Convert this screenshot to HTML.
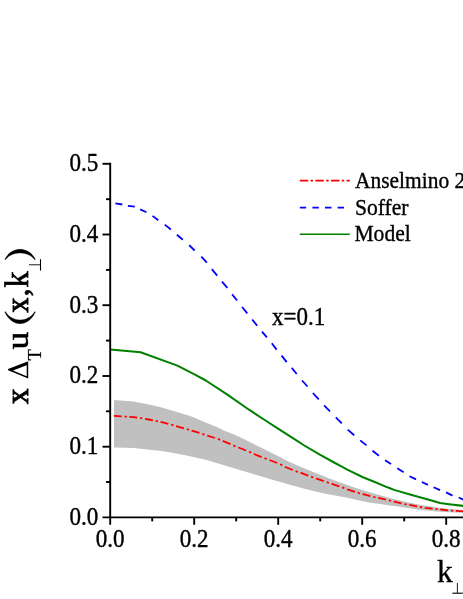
<!DOCTYPE html>
<html><head><meta charset="utf-8"><title>chart</title>
<style>
html,body{margin:0;padding:0;background:#fff;}
body{width:463px;height:599px;overflow:hidden;font-family:"Liberation Serif",serif;}
svg{display:block;will-change:transform;}
text{font-family:"Liberation Serif",serif;fill:#000;}
</style></head><body>
<svg width="463" height="599" viewBox="0 0 463 599">
<rect width="463" height="599" fill="#fff"/>
<polygon points="114.0,400.1 133.3,401.4 148.9,404.6 161.8,407.5 170.0,410.0 178.0,412.3 190.9,416.2 203.9,421.8 216.8,427.0 225.0,430.9 233.0,434.1 245.9,440.1 258.9,446.6 271.8,453.0 280.0,456.9 288.0,461.2 300.9,467.0 313.9,472.2 326.8,477.4 335.0,480.6 343.0,483.6 355.9,488.1 368.9,492.0 381.8,495.7 390.0,497.9 398.0,500.0 410.9,503.0 423.9,505.6 436.8,507.5 445.0,508.5 470.0,510.7 470.0,513.0 445.0,512.0 436.8,511.4 423.9,510.2 410.9,508.5 398.0,506.5 390.0,505.6 381.8,504.3 368.9,502.4 355.9,499.8 350.0,498.3 339.1,496.3 321.8,493.0 304.6,488.7 287.3,483.9 271.4,479.4 249.8,473.1 228.2,466.6 206.6,460.1 190.0,456.3 179.1,454.0 161.8,451.1 144.6,449.2 134.2,448.0 114.0,447.6" fill="#c0c0c0"/>
<path d="M113.9 415.9L121.7 416.4M124.6 416.6L126.8 416.7M129.4 416.9L133.3 417.2L137.2 417.7M140.1 418.1L141.0 418.2L142.3 418.4M145.0 418.9L148.9 419.5L152.8 420.3M155.7 420.8L157.9 421.3M160.5 421.8L161.8 422.1L168.3 423.9L168.3 423.9M171.2 424.5L171.5 424.6L173.4 425.3M176.1 426.2L183.9 428.4M186.8 429.2L188.0 429.5L189.0 429.8M191.6 430.6L191.8 430.7L199.4 432.8M202.3 433.9L203.5 434.3L204.5 434.7M207.2 435.6L215.0 438.0M217.9 439.0L219.1 439.4L220.1 439.8M222.7 440.9L223.2 441.1L230.5 444.1M233.4 445.4L234.3 445.8L235.6 446.3M238.3 447.4L238.5 447.5L246.1 450.5M249.0 451.6L250.1 452.1L251.2 452.6M253.8 453.9L254.1 454.0L261.6 457.1M264.5 458.2L265.7 458.6L266.7 459.0M269.4 460.0L277.2 463.0M280.1 464.3L281.1 464.8L282.2 465.4M284.9 466.7L285.4 467.0L292.7 470.0M295.6 471.1L296.9 471.6L297.8 471.9M300.4 472.8L300.9 472.9L308.2 475.7M311.1 476.7L312.4 477.1L313.3 477.5M316.0 478.5L316.5 478.7L323.8 481.2M326.7 482.2L328.2 482.7L328.9 482.9M331.5 483.8L332.0 483.9L339.3 486.4M342.2 487.4L343.5 487.8L344.4 488.1M347.1 489.1L347.5 489.3L354.9 491.8M357.8 492.7L359.0 493.1L360.0 493.4M362.6 494.1L363.0 494.2L370.4 496.1M373.3 496.8L374.5 497.1L375.5 497.3M378.2 497.8L378.6 497.9L386.0 499.6M388.9 500.4L390.0 500.7L391.1 501.0M393.7 501.6L394.1 501.7L401.5 503.4M404.4 504.0L405.6 504.3L406.6 504.5M409.3 504.9L409.6 505.0L417.1 506.4M420.0 507.0L421.1 507.2L422.2 507.4M424.8 507.7L425.2 507.8L432.6 508.7M435.5 509.0L436.7 509.1L437.7 509.2M440.3 509.5L440.7 509.5L448.1 510.3M451.0 510.6L452.6 510.7L453.2 510.7M455.9 510.9L456.7 510.9L463.7 511.5" fill="none" stroke="#ff0000" stroke-width="1.8"/>
<path d="M115.4 203.4L122.3 204.5M127.9 205.8L134.8 206.7M140.2 209.4L146.5 212.2M152.5 215.9L158.3 220.2M164.8 224.6L170.9 229.5M176.9 234.7L182.8 239.7M189.2 245.1L194.6 250.5M201.3 256.6L206.9 262.7M211.8 269.2L217.2 275.6M222.0 281.7L227.4 287.9M232.1 294.4L237.1 300.5M242.1 307.0L247.3 313.4M252.2 319.5L257.2 325.7M262.0 331.6L266.9 337.4M271.8 343.3L276.6 349.6M281.6 355.6L286.7 362.1M291.7 367.9L296.7 374.0M302.1 380.5L307.5 386.5M312.9 393.0L318.7 399.3M324.1 405.3L330.0 411.3M335.8 417.3L341.8 423.3M347.7 429.6L354.2 435.2M360.2 440.4L366.5 445.4M372.5 450.8L379.0 455.7M385.0 460.2L391.0 464.0M397.3 468.3L403.6 472.3M409.5 476.2L416.1 479.4M421.8 482.0L427.9 484.9M433.6 487.2L440.0 490.1M446.1 492.4L452.5 495.6M458.7 497.5L465.0 500.5" fill="none" stroke="#0000ff" stroke-width="1.8"/>
<polyline points="110.2,349.4 140.6,352.2 177.4,365.6 195.0,374.7 205.8,380.5 227.4,394.6 249.0,409.7 264.7,420.0 280.0,429.8 296.0,440.2 303.5,445.0 319.8,454.6 335.0,463.0 341.4,466.4 346.8,469.4 362.4,477.0 375.4,482.3 385.0,486.3 390.0,488.3 394.1,489.9 410.9,494.8 423.5,498.3 431.6,500.5 440.0,503.0 448.9,504.2 470.0,506.7" fill="none" stroke="#008000" stroke-width="2" stroke-linejoin="round"/>
<g stroke="#000" stroke-width="1.9" fill="none">
<line x1="110.2" y1="162.8" x2="110.2" y2="524.8"/>
<line x1="102.5" y1="517.4" x2="463" y2="517.4"/>
<line x1="106.0" y1="482.0" x2="110.2" y2="482.0"/>
<line x1="102.5" y1="446.7" x2="110.2" y2="446.7"/>
<line x1="106.0" y1="411.3" x2="110.2" y2="411.3"/>
<line x1="102.5" y1="376.0" x2="110.2" y2="376.0"/>
<line x1="106.0" y1="340.6" x2="110.2" y2="340.6"/>
<line x1="102.5" y1="305.2" x2="110.2" y2="305.2"/>
<line x1="106.0" y1="269.9" x2="110.2" y2="269.9"/>
<line x1="102.5" y1="234.5" x2="110.2" y2="234.5"/>
<line x1="106.0" y1="199.2" x2="110.2" y2="199.2"/>
<line x1="102.5" y1="163.8" x2="110.2" y2="163.8"/>
<line x1="152.2" y1="517.4" x2="152.2" y2="521.4"/>
<line x1="194.2" y1="517.4" x2="194.2" y2="524.8"/>
<line x1="236.2" y1="517.4" x2="236.2" y2="521.4"/>
<line x1="278.2" y1="517.4" x2="278.2" y2="524.8"/>
<line x1="320.2" y1="517.4" x2="320.2" y2="521.4"/>
<line x1="362.2" y1="517.4" x2="362.2" y2="524.8"/>
<line x1="404.2" y1="517.4" x2="404.2" y2="521.4"/>
<line x1="446.2" y1="517.4" x2="446.2" y2="524.8"/>
</g>
<text transform="translate(98.3,524.8) scale(1,1.085)" font-size="23.1" text-anchor="end" stroke="#000" stroke-width="0.35">0.0</text>
<text transform="translate(98.3,454.1) scale(1,1.085)" font-size="23.1" text-anchor="end" stroke="#000" stroke-width="0.35">0.1</text>
<text transform="translate(98.3,383.4) scale(1,1.085)" font-size="23.1" text-anchor="end" stroke="#000" stroke-width="0.35">0.2</text>
<text transform="translate(98.3,312.6) scale(1,1.085)" font-size="23.1" text-anchor="end" stroke="#000" stroke-width="0.35">0.3</text>
<text transform="translate(98.3,241.9) scale(1,1.085)" font-size="23.1" text-anchor="end" stroke="#000" stroke-width="0.35">0.4</text>
<text transform="translate(98.3,171.2) scale(1,1.085)" font-size="23.1" text-anchor="end" stroke="#000" stroke-width="0.35">0.5</text>
<text transform="translate(110.2,547.2) scale(1,1.085)" font-size="23.1" text-anchor="middle" stroke="#000" stroke-width="0.35">0.0</text>
<text transform="translate(194.2,547.2) scale(1,1.085)" font-size="23.1" text-anchor="middle" stroke="#000" stroke-width="0.35">0.2</text>
<text transform="translate(278.2,547.2) scale(1,1.085)" font-size="23.1" text-anchor="middle" stroke="#000" stroke-width="0.35">0.4</text>
<text transform="translate(362.2,547.2) scale(1,1.085)" font-size="23.1" text-anchor="middle" stroke="#000" stroke-width="0.35">0.6</text>
<text transform="translate(446.2,547.2) scale(1,1.085)" font-size="23.1" text-anchor="middle" stroke="#000" stroke-width="0.35">0.8</text>
<line x1="299.8" y1="180.6" x2="349.8" y2="180.6" stroke="#ff0000" stroke-width="1.6" stroke-dasharray="8.4 2.4 2.4 2.4"/>
<line x1="299.8" y1="207.6" x2="349.8" y2="207.6" stroke="#0000ff" stroke-width="1.6" stroke-dasharray="6.4 6.2"/>
<line x1="299.8" y1="234.2" x2="349.8" y2="234.2" stroke="#008000" stroke-width="1.6"/>
<text transform="translate(355.0,188.3) scale(1,1.085)" font-size="21.45" stroke="#000" stroke-width="0.35">Anselmino 2007</text>
<text transform="translate(355.0,214.6) scale(1,1.085)" font-size="21.6" stroke="#000" stroke-width="0.35">Soffer</text>
<text transform="translate(354.4,241.3) scale(1,1.085)" font-size="21.6" stroke="#000" stroke-width="0.35">Model</text>
<text transform="translate(272.0,324.7) scale(1,1.085)" font-size="23.0" stroke="#000" stroke-width="0.35">x=0.1</text>
<text transform="translate(436.9,582) scale(1,0.97)" font-size="31.6" stroke="#000" stroke-width="0.35">k</text>
<g stroke="#000" fill="none"><line x1="457.4" y1="583" x2="457.4" y2="593.2" stroke-width="0.9"/><line x1="452.3" y1="593.2" x2="462.8" y2="593.2" stroke-width="1.1"/></g>
<g transform="translate(28.2,404.6) rotate(-90)">
<text transform="translate(0.68,0) scale(0.935,0.955)" font-size="33" stroke="#000" stroke-width="0.95">x</text>
<path fill-rule="evenodd" d="M26.1 0L34.4 -20.1L35.6 -20.1L43.3 0ZM28.42 -1.5L34.08 -15.2L39.33 -1.5Z" fill="#000"/>
<text transform="translate(44.1,12.4) scale(1,1.05)" font-size="18.6" stroke="#000" stroke-width="0.2">T</text>
<text transform="translate(55.15,0) scale(1.08,0.97)" font-size="33" stroke="#000" stroke-width="0.55">u</text>
<path d="M92.6 -23.4C77.1 -16.5 77.1 0.3 92.6 7.2L93.1 6.6C81.8 0 81.8 -16.2 93.1 -22.8Z" fill="#000" stroke="#000" stroke-width="0.3"/>
<text transform="translate(92.1,0) scale(0.895,0.955)" font-size="33" stroke="#000" stroke-width="0.95">x</text>
<text transform="translate(108.0,0) scale(1.05,1)" font-size="31" stroke="#000" stroke-width="0.6">,</text>
<text transform="translate(117.14,0) scale(0.975,1)" font-size="33" stroke="#000" stroke-width="0.7">k</text>
<g stroke="#000" fill="none"><line x1="139.8" y1="0.7" x2="139.8" y2="12.3" stroke-width="0.9"/><line x1="134" y1="12.3" x2="145.4" y2="12.3" stroke-width="1.1"/></g>
<path d="M145.3 -23.4C158.6 -16.5 158.6 0.3 145.3 7.2L144.8 6.6C154.0 0 154.0 -16.2 144.8 -22.8Z" fill="#000" stroke="#000" stroke-width="0.3"/>
</g>
</svg>
</body></html>
